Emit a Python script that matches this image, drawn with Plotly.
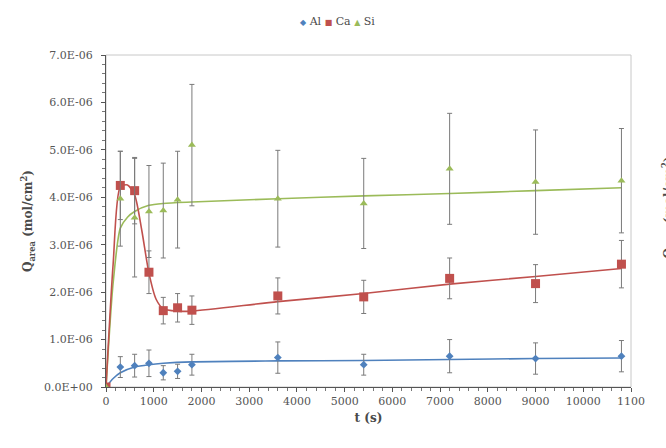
import plotly.graph_objects as go

# Sampling times (s)
t = [0, 300, 600, 900, 1200, 1500, 1800, 3600, 5400, 7200, 9000, 10800]

# Measured surface release, mol/cm^2
al = [0.0, 0.42e-6, 0.45e-6, 0.50e-6, 0.30e-6, 0.33e-6, 0.47e-6, 0.62e-6, 0.47e-6, 0.65e-6, 0.60e-6, 0.65e-6]
al_err = [0.0, 0.22e-6, 0.24e-6, 0.28e-6, 0.15e-6, 0.15e-6, 0.22e-6, 0.33e-6, 0.22e-6, 0.35e-6, 0.33e-6, 0.33e-6]

ca = [0.0, 4.25e-6, 4.14e-6, 2.42e-6, 1.61e-6, 1.67e-6, 1.62e-6, 1.92e-6, 1.90e-6, 2.29e-6, 2.18e-6, 2.59e-6]
ca_err = [0.0, 0.72e-6, 0.70e-6, 0.45e-6, 0.28e-6, 0.30e-6, 0.30e-6, 0.38e-6, 0.35e-6, 0.43e-6, 0.40e-6, 0.50e-6]

si = [0.0, 3.97e-6, 3.57e-6, 3.70e-6, 3.72e-6, 3.95e-6, 5.10e-6, 3.97e-6, 3.87e-6, 4.60e-6, 4.32e-6, 4.35e-6]
si_err = [0.0, 1.00e-6, 1.25e-6, 0.97e-6, 1.00e-6, 1.02e-6, 1.28e-6, 1.02e-6, 0.95e-6, 1.17e-6, 1.10e-6, 1.10e-6]

# Model curves
al_fit_t = [0, 150, 300, 600, 900, 1200, 1800, 3600, 5400, 7200, 9000, 10800]
al_fit = [0.0, 0.18e-6, 0.30e-6, 0.42e-6, 0.47e-6, 0.50e-6, 0.53e-6, 0.55e-6, 0.56e-6, 0.58e-6, 0.60e-6, 0.61e-6]

ca_fit_t = [0, 150, 300, 450, 600, 750, 900, 1050, 1200, 1500, 1800, 3600, 5400, 7200, 9000, 10800]
ca_fit = [0.0, 2.6e-6, 4.22e-6, 4.26e-6, 4.05e-6, 3.30e-6, 2.40e-6, 1.85e-6, 1.65e-6, 1.60e-6, 1.60e-6, 1.80e-6, 1.97e-6, 2.17e-6, 2.33e-6, 2.50e-6]

si_fit_t = [0, 150, 300, 450, 600, 900, 1200, 1800, 3600, 5400, 7200, 9000, 10800]
si_fit = [0.0, 2.2e-6, 3.35e-6, 3.58e-6, 3.70e-6, 3.83e-6, 3.87e-6, 3.90e-6, 3.97e-6, 4.03e-6, 4.08e-6, 4.14e-6, 4.20e-6]

y_ticks = [0, 1e-6, 2e-6, 3e-6, 4e-6, 5e-6, 6e-6, 7e-6]
y_labels = ["0.0E+00", "1.0E-06", "2.0E-06", "3.0E-06", "4.0E-06", "5.0E-06", "6.0E-06", "7.0E-06"]
x_ticks = [0, 1000, 2000, 3000, 4000, 5000, 6000, 7000, 8000, 9000, 10000, 11000]
x_labels = ["0", "1000", "2000", "3000", "4000", "5000", "6000", "7000", "8000", "9000", "10000", "1100"]

BLUE = "#4F81BD"
RED = "#C0504D"
GREEN = "#9BBB59"
ERR = "#7a7a7a"
FONT = "DejaVu Serif"
TXT = "#4a4a4a"

series = [("Al", al, al_err, BLUE, "diamond", 6, "\u25C6"),
          ("Ca", ca, ca_err, RED, "square", 9, "\u25A0"),
          ("Si", si, si_err, GREEN, "triangle-up", 7, "\u25B2")]

fig = go.Figure()

for name, xs, ys, col in [("Al fit", al_fit_t, al_fit, BLUE),
                          ("Si fit", si_fit_t, si_fit, GREEN),
                          ("Ca fit", ca_fit_t, ca_fit, RED)]:
    fig.add_trace(go.Scatter(x=xs, y=ys, mode="lines", name=name, showlegend=False,
                             line=dict(color=col, width=1.6, shape="spline", smoothing=0.7),
                             hoverinfo="skip"))

for name, ys, err, col, sym, size, _ in series:
    fig.add_trace(go.Scatter(
        x=t, y=ys, mode="markers", name=name, showlegend=False,
        marker=dict(color=col, symbol=sym, size=size),
        error_y=dict(type="data", array=err, visible=True, color=ERR, thickness=1, width=2.5),
    ))

# Compact legend line above the plot
legend_text = " ".join(
    f"<span style='color:{col};font-size:8px'>{glyph}</span> {name}"
    for name, _, _, col, _, _, glyph in series
)
fig.add_annotation(xref="paper", yref="paper", x=0.44, y=1.1, xanchor="center", yanchor="middle",
                   text=legend_text, showarrow=False, font=dict(family=FONT, size=11, color=TXT))

# y-axis title of the neighbouring panel, mostly outside the canvas
fig.add_annotation(xref="paper", yref="paper", x=1.072, y=0.54, xanchor="center", yanchor="middle",
                   text="<b>Q<sub>area</sub> (mol/cm<sup>2</sup>)</b>", textangle=-90, showarrow=False,
                   font=dict(family=FONT, size=12, color=TXT))

fig.update_layout(
    width=666, height=448,
    margin=dict(l=106, r=35, t=55, b=61, autoexpand=False),
    paper_bgcolor="white", plot_bgcolor="white",
    font=dict(family=FONT, size=11, color=TXT),
    showlegend=False,
    xaxis=dict(range=[0, 11000], tickvals=x_ticks, ticktext=x_labels,
               showgrid=False, zeroline=False, showline=True, linecolor="#555", linewidth=1.2,
               mirror=False, ticks="outside", ticklen=4, tickcolor="#555",
               minor=dict(dtick=200, ticks="outside", ticklen=3, tickcolor="#777"),
               title=dict(text="<b>t (s)</b>", font=dict(family=FONT, size=12, color=TXT), standoff=6),
               tickfont=dict(family=FONT, size=11, color="#555")),
    yaxis=dict(range=[0, 7e-6], tickvals=y_ticks, ticktext=y_labels,
               showgrid=False, zeroline=False, showline=True, linecolor="#555", linewidth=1.2,
               ticks="outside", ticklen=4, tickcolor="#555", ticklabelstandoff=6,
               minor=dict(dtick=0.2e-6, ticks="outside", ticklen=3, tickcolor="#777"),
               title=dict(text="<b>Q<sub>area</sub> (mol/cm<sup>2</sup>)</b>",
                          font=dict(family=FONT, size=12, color=TXT), standoff=8),
               tickfont=dict(family=FONT, size=11, color="#555")),
    shapes=[dict(type="rect", xref="paper", yref="paper", x0=0, y0=0, x1=1, y1=1,
                 line=dict(color="#c8c8c8", width=1), layer="below")],
)

fig.write_html("out.html")
